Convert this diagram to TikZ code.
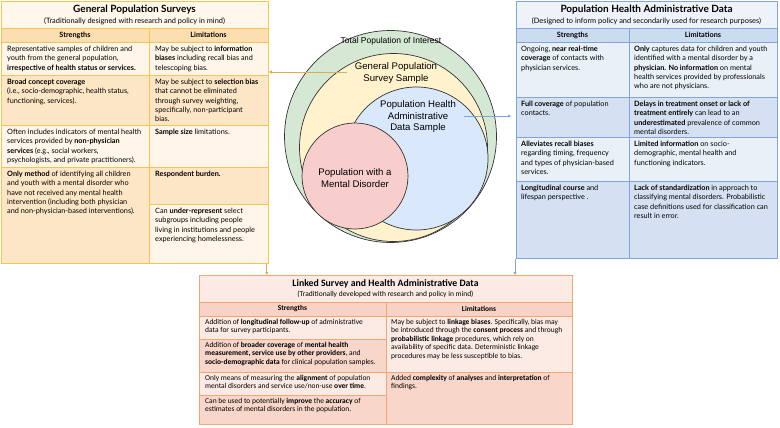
\documentclass[tikz,border=0pt]{standalone}
\usepackage{fontspec}
\usetikzlibrary{arrows.meta}
\newfontfamily\gpsfont{Lato}
\newfontfamily\linkfont{Carlito}
\newfontfamily\vennfont{Liberation Sans}

\definecolor{gpsLine}{HTML}{F6C453}
\definecolor{gpsTop}{HTML}{FFF7EA}
\definecolor{gpsHead}{HTML}{FCDFB0}
\definecolor{gpsLight}{HTML}{FFF5E8}
\definecolor{gpsDark}{HTML}{FDE6C6}
\definecolor{phLine}{HTML}{7EA6DC}
\definecolor{phTop}{HTML}{EEF3FA}
\definecolor{phHead}{HTML}{CBDBF0}
\definecolor{phLight}{HTML}{EAF0F8}
\definecolor{phDark}{HTML}{D5E1F2}
\definecolor{lkLine}{HTML}{F4A672}
\definecolor{lkTop}{HTML}{FCEAE4}
\definecolor{lkHead}{HTML}{F8D2C5}
\definecolor{lkLight}{HTML}{FCEBE5}
\definecolor{lkDark}{HTML}{F8D6CA}
\definecolor{vGreen}{HTML}{D5E8D4}
\definecolor{vYellow}{HTML}{FFF2CC}
\definecolor{vBlue}{HTML}{DAE8FC}
\definecolor{vPink}{HTML}{F8CECC}

\begin{document}
\begin{tikzpicture}[x=1pt, y=-1pt,
    cell/.style={line width=0.8pt},
    frame/.style={anchor=north west, line width=0.8pt, inner sep=0pt},
    topbody/.style={anchor=north west, align=left, inner sep=0pt, font={\gpsfont\fontsize{7.3}{9.3}\selectfont}},
    tophead/.style={inner sep=0pt, font={\gpsfont\bfseries\fontsize{7.3}{8}\selectfont}},
    toptitle/.style={inner sep=0pt, font={\gpsfont\bfseries\fontsize{10}{11}\selectfont}},
    topsub/.style={inner sep=0pt, font={\gpsfont\fontsize{7.4}{8}\selectfont}},
    lkbody/.style={anchor=north west, align=left, inner sep=0pt, font={\linkfont\fontsize{7.5}{8.4}\selectfont}},
    lkhead/.style={inner sep=0pt, font={\linkfont\bfseries\fontsize{7.4}{8}\selectfont}},
    lktitle/.style={inner sep=0pt, font={\linkfont\bfseries\fontsize{9.8}{11}\selectfont}},
    lksub/.style={inner sep=0pt, font={\linkfont\fontsize{7.5}{8}\selectfont}},
    venn/.style={draw=black!80, line width=0.7pt},
    vlabel/.style={align=center, inner sep=0pt, font={\vennfont\fontsize{9.6}{11.5}\selectfont}},
    tip/.style={-{Triangle[length=3pt,width=3pt]}, line width=0.7pt}]
    \useasboundingbox (0,0) rectangle (780,428);

    % Venn circles
    \filldraw[venn, fill=vGreen] (390.5,136.5) circle (106pt);
    \filldraw[venn, fill=vYellow] (393.5,147.5) circle (94pt);
    \filldraw[venn, fill=vBlue] (416.5,158.5) circle (71.5pt);
    \filldraw[venn, fill=vPink] (355,176) circle (53pt);
    \node[vlabel, font={\vennfont\fontsize{8.5}{10}\selectfont}] (vTotal) at (391,41) {Total Population of Interest};
    \node[vlabel] (vSurvey) at (396,73) {General Population\\Survey Sample};
    \node[vlabel] (vAdmin) at (418,117) {Population Health\\Administrative\\Data Sample};
    \node[vlabel] (vDis) at (355,178) {Population with a\\Mental Disorder};

    % General Population Surveys
    \foreach \xa/\xb/\ya/\yb/\c in {1/268/1/28/gpsTop, 1/149/28/42/gpsHead, 149/268/28/42/gpsHead,
        1/149/42/75/gpsLight, 149/268/42/75/gpsLight, 1/149/75/125/gpsDark, 149/268/75/125/gpsDark,
        1/149/125/167/gpsLight, 149/268/125/167/gpsLight, 1/149/167/263/gpsDark,
        149/268/167/204/gpsDark, 149/268/204/263/gpsLight}
        \filldraw[cell, draw=gpsLine, fill=\c] (\xa,\ya) rectangle (\xb,\yb);
    \node[frame, draw=gpsLine, minimum width=267pt, minimum height=262pt] (gps) at (1,1) {};
    \node[toptitle] (gpsT) at (134.5,10) {General Population Surveys};
    \node[topsub] (gpsSub) at (134.5,21) {(Traditionally designed with research and policy in mind)};
    \node[tophead] (gpsHs) at (75,35) {Strengths};
    \node[tophead] (gpsHl) at (208.5,35) {Limitations};
    \node[topbody] (gpsS1) at (7,46) {Representative samples of children and\\youth from the general population,\\\textbf{irrespective of health status or services.}};
    \node[topbody] (gpsS2) at (7,79) {\textbf{Broad concept coverage}\\(i.e., socio-demographic, health status,\\functioning, services).};
    \node[topbody] (gpsS3) at (7,129) {Often includes indicators of mental health\\services provided by \textbf{non-physician}\\\textbf{services} (e.g., social workers,\\psychologists, and private practitioners).};
    \node[topbody] (gpsS4) at (7,171) {\textbf{Only method} of identifying all children\\and youth with a mental disorder who\\have not received any mental health\\intervention (including both physician\\and non-physician-based interventions).};
    \node[topbody] (gpsL1) at (155,46) {May be subject to \textbf{information}\\\textbf{biases} including recall bias and\\telescoping bias.};
    \node[topbody] (gpsL2) at (155,79) {May be subject to \textbf{selection bias}\\that cannot be eliminated\\through survey weighting,\\specifically, non-participant\\bias.};
    \node[topbody] (gpsL3) at (155,129) {\textbf{Sample size} limitations.};
    \node[topbody] (gpsL4) at (155,171) {\textbf{Respondent burden.}};
    \node[topbody] (gpsL5) at (155,208) {Can \textbf{under-represent} select\\subgroups including people\\living in institutions and people\\experiencing homelessness.};

    % Population Health Administrative Data
    \foreach \xa/\xb/\ya/\yb/\c in {516/777/1/28/phTop, 516/629/28/42/phHead, 629/777/28/42/phHead,
        516/629/42/97/phLight, 629/777/42/97/phLight, 516/629/97/137/phDark, 629/777/97/137/phDark,
        516/629/137/181/phLight, 629/777/137/181/phLight, 516/629/181/258/phDark, 629/777/181/258/phDark}
        \filldraw[cell, draw=phLine, fill=\c] (\xa,\ya) rectangle (\xb,\yb);
    \node[frame, draw=phLine, minimum width=261pt, minimum height=257pt] (ph) at (516,1) {};
    \node[toptitle] (phT) at (646.5,10) {Population Health Administrative Data};
    \node[topsub] (phSub) at (646.5,21) {(Designed to inform policy and secondarily used for research purposes)};
    \node[tophead] (phHs) at (572.5,35) {Strengths};
    \node[tophead] (phHl) at (703,35) {Limitations};
    \node[topbody] (phS1) at (521,46) {Ongoing, \textbf{near real-time}\\\textbf{coverage} of contacts with\\physician services.};
    \node[topbody] (phS2) at (521,101) {\textbf{Full coverage} of population\\contacts.};
    \node[topbody] (phS3) at (521,141) {\textbf{Alleviates recall biases}\\regarding timing, frequency\\and types of physician-based\\services.};
    \node[topbody] (phS4) at (521,185) {\textbf{Longitudinal course} and\\lifespan perspective .};
    \node[topbody] (phL1) at (634,46) {\textbf{Only} captures data for children and youth\\identified with a mental disorder by a\\\textbf{physician. No information} on mental\\health services provided by professionals\\who are not physicians.};
    \node[topbody] (phL2) at (634,101) {\textbf{Delays in treatment onset or lack of}\\\textbf{treatment entirely} can lead to an\\\textbf{underestimated} prevalence of common\\mental disorders.};
    \node[topbody] (phL3) at (634,141) {\textbf{Limited information} on socio-\\demographic, mental health and\\functioning indicators.};
    \node[topbody] (phL4) at (634,185) {\textbf{Lack of standardization} in approach to\\classifying mental disorders. Probabilistic\\case definitions used for classification can\\result in error.};

    % Linked Survey and Health Administrative Data
    \foreach \xa/\xb/\ya/\yb/\c in {199/572/275/302/lkTop, 199/386/302/316/lkHead, 386/572/302/316/lkHead,
        199/386/316/339/lkLight, 199/386/339/372/lkDark, 199/386/372/395/lkLight, 199/386/395/424/lkDark,
        386/572/316/372/lkLight, 386/572/372/424/lkDark}
        \filldraw[cell, draw=lkLine, fill=\c] (\xa,\ya) rectangle (\xb,\yb);
    \node[frame, draw=lkLine, minimum width=373pt, minimum height=149pt] (lk) at (199,275) {};
    \node[lktitle] (lkT) at (385.5,284) {Linked Survey and Health Administrative Data};
    \node[lksub] (lkSub) at (385.5,294) {(Traditionally developed with research and policy in mind)};
    \node[lkhead] (lkHs) at (292.5,309) {Strengths};
    \node[lkhead] (lkHl) at (479,309) {Limitations};
    \node[lkbody] (lkS1) at (205,319) {Addition of \textbf{longitudinal follow-up} of administrative\\data for survey participants.};
    \node[lkbody] (lkS2) at (205,342) {Addition of \textbf{broader coverage} of \textbf{mental health}\\\textbf{measurement, service use by other providers}, and\\\textbf{socio-demographic data} for clinical population samples.};
    \node[lkbody] (lkS3) at (205,375) {Only means of measuring the \textbf{alignment} of population\\mental disorders and service use/non-use \textbf{over time}.};
    \node[lkbody] (lkS4) at (205,398) {Can be used to potentially \textbf{improve} the \textbf{accuracy} of\\estimates of mental disorders in the population.};
    \node[lkbody] (lkL1) at (391,319) {May be subject to \textbf{linkage biases}. Specifically, bias may\\be introduced through the \textbf{consent process} and through\\\textbf{probabilistic linkage} procedures, which rely on\\availability of specific data. Deterministic linkage\\procedures may be less susceptible to bias.};
    \node[lkbody] (lkL2) at (391,375) {Added \textbf{complexity} of \textbf{analyses} and \textbf{interpretation} of\\findings.};

    % Connectors
    \coordinate (gpsFrom) at (347,72);
    \coordinate (phFrom) at (464,116);
    \coordinate (gpsOut) at ([xshift=-2pt]gps.south east);
    \coordinate (phOut) at ([xshift=-1pt]ph.south west);
    \draw[tip, gpsLine!90!black] (gpsFrom) -- (gpsFrom -| gps.east);
    \draw[tip, phLine, shorten >=5pt] (phFrom) -- (phFrom -| ph.west);
    \draw[tip, gpsLine!90!black] (gpsOut) -- (gpsOut |- lk.north);
    \draw[tip, phLine] (phOut) -- (phOut |- lk.north);
\end{tikzpicture}
\end{document}
